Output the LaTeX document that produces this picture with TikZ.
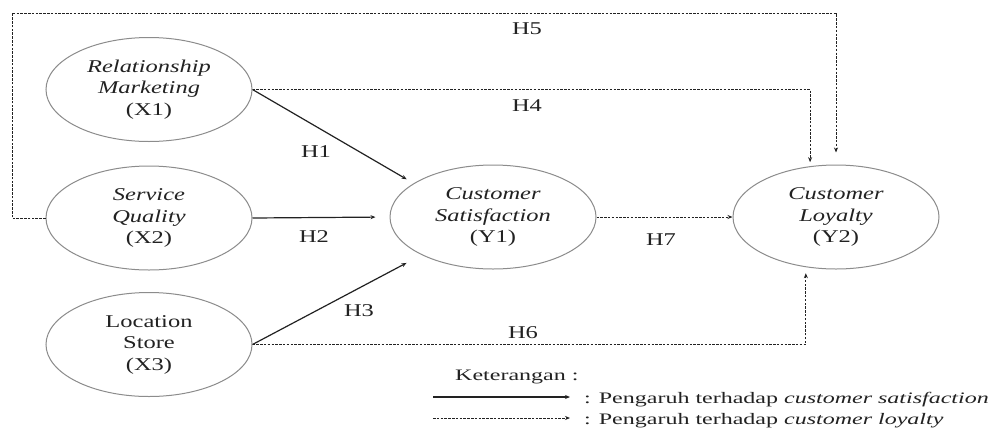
\documentclass[tikz,border=0pt]{standalone}
\usepackage{fontspec}
\setmainfont{Liberation Serif}
\newfontfamily\nodefont[FakeStretch=1.36]{Liberation Serif}
\newfontfamily\legendfont[FakeStretch=1.5]{Liberation Serif}
\usetikzlibrary{shapes.geometric,arrows.meta}
\definecolor{inkc}{HTML}{222222}
\definecolor{rimc}{HTML}{8C8C8C}
\begin{document}
\begin{tikzpicture}[x=1pt,y=-1pt,
  construct/.style={ellipse, draw=rimc, line width=1pt,
    minimum width=206pt, minimum height=104pt, inner sep=0pt,
    align=center, text=inkc, font=\nodefont\fontsize{18}{21.5}\selectfont},
  hyplabel/.style={text=inkc, inner sep=0pt,
    font=\nodefont\fontsize{18}{21.5}\selectfont},
  legendtext/.style={text=inkc, inner sep=0pt,
    font=\legendfont\fontsize{16}{19}\selectfont},
  effect/.style={draw=inkc, line width=1.2pt, -{Stealth[length=5pt,width=4pt]}},
  loyal/.style={draw=inkc, line width=1pt, dash pattern=on 2.5pt off 1.3pt,
    -{Stealth[length=5pt,width=4pt]}},
]
\useasboundingbox (0,0) rectangle (998,429);
\fill[white] (0,0) rectangle (998,429);

% constructs
\node[construct] (X1) at (149,89.5) {\textit{Relationship}\\\textit{Marketing}\\(X1)};
\node[construct] (X2) at (149,218) {\textit{Service}\\\textit{Quality}\\(X2)};
\node[construct] (X3) at (149,344.5) {Location\\Store\\(X3)};
\node[construct] (Y1) at (493,217) {\textit{Customer}\\\textit{Satisfaction}\\(Y1)};
\node[construct] (Y2) at (836,217) {\textit{Customer}\\\textit{Loyalty}\\(Y2)};

% effects on customer satisfaction
\draw[effect, shorten >=8pt] (X1.east) -- (Y1.157);
\draw[effect, shorten >=14pt] (X2.east) -- (Y1.west);
\draw[effect, shorten >=17pt] (X3.east) -- (Y1.208);

% effects on customer loyalty
\draw[loyal] (Y1.east) -- (Y2.west);
\draw[loyal, shorten >=4pt] (X1.east) -| (Y2.117);
\coordinate (h5corner) at (12,13);
\draw[loyal, shorten >=12pt] (X2.west) -| (h5corner) -| (Y2.north);
\draw[loyal, shorten >=6pt] (X3.east) -| (Y2.239);

% hypothesis labels
\node[hyplabel] (h1) at (316,152) {H1};
\node[hyplabel] (h2) at (314,237) {H2};
\node[hyplabel] (h3) at (359,311) {H3};
\node[hyplabel] (h4) at (527,106) {H4};
\node[hyplabel] (h5) at (527,29) {H5};
\node[hyplabel] (h6) at (523,333) {H6};
\node[hyplabel] (h7) at (661,240) {H7};

% legend
\node[legendtext, anchor=base west] (ket) at (455,380) {Keterangan :};
\coordinate (sa) at (433,397);
\coordinate (sb) at (570,397);
\coordinate (da) at (433,418);
\coordinate (db) at (570,418);
\draw[effect] (sa) -- (sb);
\draw[loyal] (da) -- (db);
\node[legendtext, anchor=base west] (lsat) at (584,403) {: Pengaruh terhadap \textit{customer satisfaction}};
\node[legendtext, anchor=base west] (lloy) at (584,424) {: Pengaruh terhadap \textit{customer loyalty}};
\end{tikzpicture}
\end{document}
